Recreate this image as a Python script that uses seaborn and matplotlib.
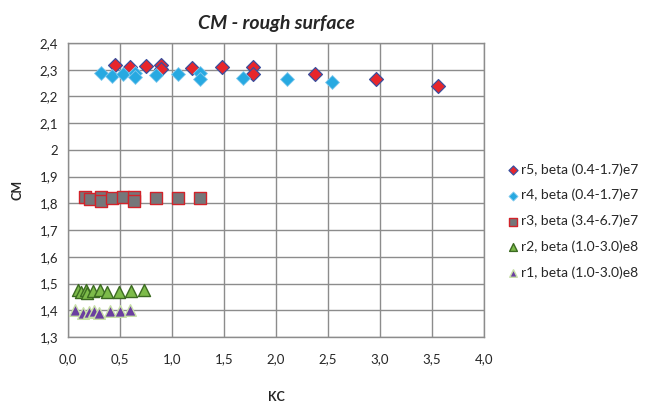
import matplotlib
matplotlib.use("Agg")
import matplotlib.pyplot as plt
import seaborn as sns
import pandas as pd

# data
r5_kc = [0.45, 0.595, 0.746, 0.89, 0.89, 1.19, 1.485, 1.78, 1.78, 2.37, 2.96, 3.555]
r5_cm = [2.317, 2.310, 2.315, 2.316, 2.302, 2.307, 2.310, 2.310, 2.284, 2.284, 2.266, 2.238]

r4_kc = [0.315, 0.424, 0.53, 0.64, 0.64, 0.846, 1.055, 1.27, 1.27, 1.68, 2.106, 2.535]
r4_cm = [2.287, 2.278, 2.283, 2.287, 2.271, 2.279, 2.283, 2.287, 2.264, 2.269, 2.264, 2.254]

r3_kc = [0.16, 0.215, 0.315, 0.315, 0.424, 0.53, 0.633, 0.633, 0.846, 1.058, 1.27]
r3_cm = [1.825, 1.816, 1.825, 1.810, 1.818, 1.823, 1.823, 1.810, 1.818, 1.818, 1.819]

r2_kc = [0.096, 0.12, 0.177, 0.186, 0.24, 0.305, 0.37, 0.486, 0.604, 0.73]
r2_cm = [1.475, 1.470, 1.475, 1.465, 1.473, 1.475, 1.469, 1.470, 1.473, 1.475]

r1_kc = [0.07, 0.145, 0.2, 0.25, 0.3, 0.40, 0.5, 0.6]
r1_cm = [1.400, 1.390, 1.395, 1.398, 1.391, 1.396, 1.398, 1.400]

labels = ["r5, beta (0.4-1.7)e7", "r4, beta (0.4-1.7)e7", "r3, beta (3.4-6.7)e7",
          "r2, beta (1.0-3.0)e8", "r1, beta (1.0-3.0)e8"]

sns.set_style("white")
plt.rcParams['font.family'] = ['Lato', 'DejaVu Sans']

fig = plt.figure(figsize=(6.51, 4.05), dpi=100)
ax = fig.add_axes([0.1045, 0.168, 0.639, 0.726])

series = [
    (r5_kc, r5_cm, 'D', '#e8262b', '#3a4f9e', 50, 0.9),
    (r4_kc, r4_cm, 'D', '#27a9e1', '#7fc8ee', 50, 0.6),
    (r3_kc, r3_cm, 's', '#75777a', '#d2232a', 80, 1.0),
    (r2_kc, r2_cm, '^', '#7dbb4a', '#3c6b22', 75, 1.0),
    (r1_kc, r1_cm, '^', '#6b3fa0', '#c8e0a8', 70, 1.0),
]
for (xs, ys, mk, fc, ec, s, lw), lab in zip(series, labels):
    df = pd.DataFrame({'KC': xs, 'CM': ys})
    sns.scatterplot(data=df, x='KC', y='CM', ax=ax, marker=mk, color=fc,
                    edgecolor=ec, linewidth=lw, s=s, label=lab, zorder=3)

ax.set_xlim(0, 4.0)
ax.set_ylim(1.3, 2.4)
xt = [i * 0.5 for i in range(9)]
yt = [1.3 + i * 0.1 for i in range(12)]
ax.set_xticks(xt)
ax.set_yticks(yt)
ax.set_xticklabels([f"{v:.1f}".replace('.', ',') for v in xt], fontsize=9.5)
ylab = []
for v in yt:
    t = f"{v:.1f}".replace('.', ',')
    if t.endswith(',0'):
        t = t[:-2]
    ylab.append(t)
ax.set_yticklabels(ylab, fontsize=9.5)
ax.tick_params(axis='both', direction='out', length=4, color='#888888', width=1, pad=3)
ax.tick_params(axis='x', pad=8)
ax.grid(True, color='#8c8c8c', linewidth=1.0)
ax.set_axisbelow(True)
for sp in ax.spines.values():
    sp.set_color('#8c8c8c')
    sp.set_linewidth(1.0)

ax.set_xlabel("KC", fontsize=9, fontweight='bold', labelpad=18)
ax.set_ylabel("CM", fontsize=9, fontweight='bold', labelpad=12)
ax.set_title("CM - rough surface", fontsize=14, fontweight='bold', style='italic', pad=10)

leg = ax.legend(loc='upper left', bbox_to_anchor=(1.04, 0.61), frameon=False,
                fontsize=10, labelspacing=0.95, handletextpad=0.05, handlelength=1.0,
                markerscale=0.65, borderaxespad=0)

fig.savefig("out.png", dpi=100)
